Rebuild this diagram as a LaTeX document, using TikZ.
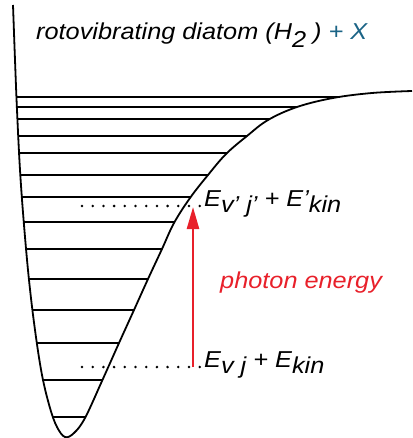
\documentclass[tikz,border=0pt]{standalone}
\usepackage{fontspec}
\setmainfont[FakeStretch=1.1]{Liberation Sans}
\usetikzlibrary{arrows.meta}
\definecolor{photonred}{HTML}{E8202A}
\definecolor{xblue}{HTML}{1B6486}
\newcommand{\lowsub}[2][-6pt]{\raisebox{#1}{#2}}

\begin{document}
\begin{tikzpicture}[x=1pt, y=-1pt,
    well/.style={line width=1.8pt},
    level/.style={line width=1.3pt},
    dotrow/.style={line width=2.8pt, line cap=round, dash pattern=on 0pt off 10.7pt},
    photon/.style={photonred, line width=2.4pt},
    lbl/.style={inner sep=0pt, anchor=base west, font=\fontsize{23}{27}\selectfont\itshape},
    wellcurve/.style={insert path={plot[smooth, tension=0.6] coordinates {
        (13,5) (15,60) (17,110) (20,170) (24,225) (29,280) (35,330) (42,375)
        (50,408) (57,427) (65,437) (74,433) (85,418) (102,381) (119,343)
        (134,310) (148,279) (162,249) (174,223) (190,198) (208,175) (226,154)
        (247,136) (268,120) (297,107) (333,98) (372,93) (412,91)}}}]

    \useasboundingbox (0,0) rectangle (412,438);

    % ==================== potential well and levels ====================
    \begin{scope}
        \clip[wellcurve] -- (412,0) -- (0,0) -- cycle;
        \foreach \y in {97,107,119,136,153,175,197,222,249,279,310,343,380,417}
            \draw[level] (0,\y) -- (412,\y);
    \end{scope}
    \draw[well, wellcurve];

    % ==================== title ====================
    \node[lbl] (title) at (36,40)
        {rotovibrating diatom (H\lowsub[-8pt]{2} ) \textcolor{xblue}{+ X}};

    % ==================== energies ====================
    \node[lbl] (upper) at (204,206) {E\lowsub{v’ j’} + E’\lowsub{kin}};
    \node[lbl] (lower) at (204,367) {E\lowsub{v j} + E\lowsub{kin}};

    \coordinate (upstart) at (82,206);
    \coordinate (upend) at (200.5,206);
    \coordinate (lowstart) at (82,367);
    \coordinate (lowend) at (200.5,367);
    \draw[dotrow] (upstart) -- (upend);
    \draw[dotrow] (lowstart) -- (lowend);

    % ==================== photon ====================
    \coordinate (lowtip) at (193,367);
    \coordinate (uptip) at (193,207);
    \draw[photon, -{Triangle[length=22pt, width=12pt]}] (lowtip) -- (uptip);
    \node[lbl, text=photonred] (photonlbl) at (220,288) {photon energy};

\end{tikzpicture}
\end{document}
